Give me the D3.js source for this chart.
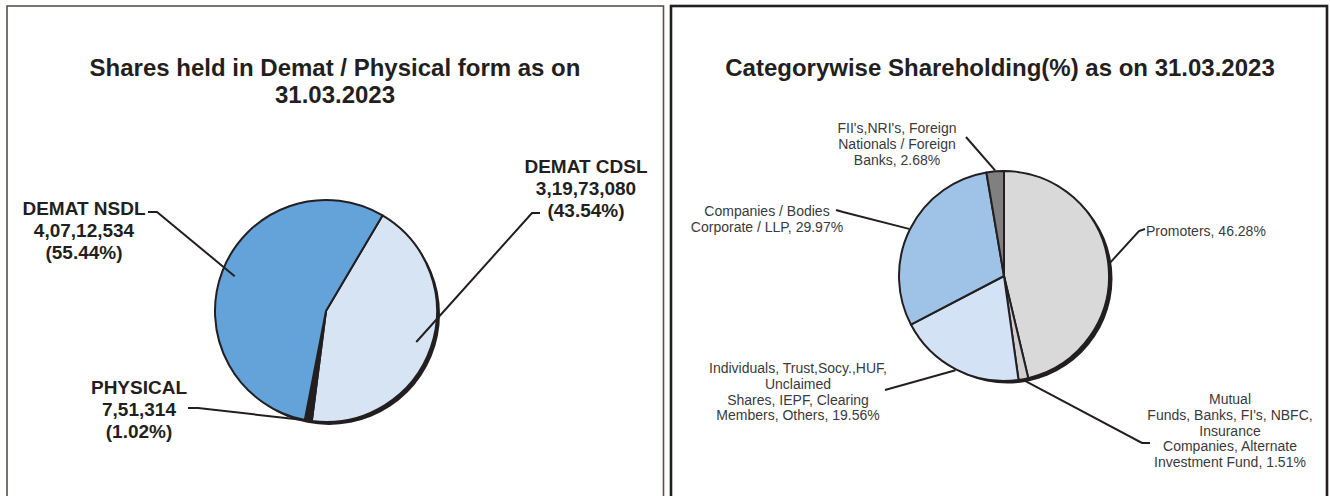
<!DOCTYPE html>
<meta charset="utf-8">
<title>Shareholding pies</title>
<style>
body { margin: 0; background: #fff; }
svg { display: block; font-family: "Liberation Sans", Arial, sans-serif; }
.title { font-size: 24px; font-weight: bold; fill: #231f20; text-anchor: middle; }
.lbl-bold { font-size: 19px; font-weight: bold; fill: #231f20; text-anchor: middle; }
.lbl { font-size: 14px; fill: #3a3a3a; text-anchor: middle; }
.leader { fill: none; stroke: #231f20; stroke-width: 2; }
.slice { stroke: #231f20; stroke-width: 2; stroke-linejoin: round; }
</style>
<script src="https://d3js.org/d3.v7.min.js"></script>
<body>
<script>

// ---- data ----
var formCategories = ["DEMAT CDSL", "PHYSICAL", "DEMAT NSDL"];
var formShares     = [31973080, 751314, 40712534];
var formShareLabels = ["3,19,73,080", "7,51,314", "4,07,12,534"];
var formPercents   = ["43.54%", "1.02%", "55.44%"];

var holdCategories = [
  ["Promoters, 46.28%"],
  ["Mutual", "Funds, Banks, FI's, NBFC,", "Insurance", "Companies, Alternate", "Investment Fund, 1.51%"],
  ["Individuals, Trust,Socy.,HUF,", "Unclaimed", "Shares, IEPF, Clearing", "Members, Others, 19.56%"],
  ["Companies / Bodies", "Corporate / LLP, 29.97%"],
  ["FII's,NRI's, Foreign", "Nationals / Foreign", "Banks, 2.68%"]
];
var holdPercents = [46.28, 1.51, 19.56, 29.97, 2.68];

var width = 1330, height = 496;

var svg = d3.select("body").append("svg")
    .attr("width", width)
    .attr("height", height);

// panel frames
svg.append("rect").attr("x", 7).attr("y", 6).attr("width", 656.5).attr("height", 600)
    .attr("fill", "none").attr("stroke", "#57524e").attr("stroke-width", 1.6);
svg.append("rect").attr("x", 671).attr("y", 6).attr("width", 656).attr("height", 600)
    .attr("fill", "none").attr("stroke", "#231f20").attr("stroke-width", 2.6);

// titles
svg.append("text").attr("class", "title").attr("x", 335).attr("y", 76)
    .text("Shares held in Demat / Physical form as on");
svg.append("text").attr("class", "title").attr("x", 335).attr("y", 103)
    .text("31.03.2023");
svg.append("text").attr("class", "title").attr("x", 1000).attr("y", 76)
    .text("Categorywise Shareholding(%) as on 31.03.2023");

// draws a pie with a dark "3D" rim on the lower right
function drawPie(g, values, colors, r, startDeg, shadow) {
  var pie = d3.pie().sort(null)
      .startAngle(startDeg * Math.PI / 180)
      .endAngle(startDeg * Math.PI / 180 + 2 * Math.PI);
  var arcs = pie(values);
  var arc = d3.arc().innerRadius(0).outerRadius(r);

  g.append("circle")
      .attr("cx", shadow[0]).attr("cy", shadow[1]).attr("r", r)
      .attr("fill", "#231f20");

  g.selectAll("path.slice")
      .data(arcs)
    .enter().append("path")
      .attr("class", "slice")
      .attr("fill", function(d, i) { return colors[i]; })
      .attr("d", arc);
  return arcs;
}

// point on a slice's mid angle at radius k
function midPoint(d, k) {
  var a = (d.startAngle + d.endAngle) / 2;
  return [k * Math.sin(a), -k * Math.cos(a)];
}

// ---- left pie ----
var leftC = [326, 311], leftR = 111;
var gL = svg.append("g").attr("transform", "translate(" + leftC + ")");
var leftArcs = drawPie(gL, formShares, ["#d6e4f4", "#231f20", "#64a2da"], leftR, 30.6, [3, 3]);

// label anchors (layout) and where the leader meets the slice
var leftLabels = [
  { x: 586, y: 173, line: [[540, 213], [532, 213]], k: 0.86 },
  { x: 139, y: 394, line: [[188, 408], [198, 408]], k: 1.0 },
  { x: 84,  y: 215, line: [[148, 212], [157, 212]], k: 0.88 }
];

leftArcs.forEach(function(d, i) {
  var L = leftLabels[i];
  var p = midPoint(d, leftR * L.k);
  var pts = L.line.concat([[p[0] + leftC[0], p[1] + leftC[1]]]);
  svg.append("path").attr("class", "leader").attr("d", d3.line()(pts));
  var t = svg.append("text").attr("class", "lbl-bold").attr("x", L.x).attr("y", L.y);
  [formCategories[i], formShareLabels[i], "(" + formPercents[i] + ")"].forEach(function(s, j) {
    t.append("tspan").attr("x", L.x).attr("dy", j ? 22 : 0).text(s);
  });
});

// ---- right pie ----
var rightC = [1004, 276], rightR = 105;
var gR = svg.append("g").attr("transform", "translate(" + rightC + ")");
var rightArcs = drawPie(gR, holdPercents, ["#d9d9d9", "#d0d0d0", "#d3e2f4", "#9fc3e7", "#808080"], rightR, 0, [3.5, 2.5]);

var rightLabels = [
  { x: 1146, y: 236, anchor: "start", line: [[1145, 229], [1139, 231]] },
  { x: 1230, y: 404, anchor: "middle", line: [[1150, 443], [1142, 443]] },
  { x: 798,  y: 373, anchor: "middle", line: [[885, 390]] },
  { x: 767,  y: 216, anchor: "middle", line: [[836, 210], [843, 212]] },
  { x: 897,  y: 133, anchor: "middle", line: [[966, 137]] }
];

rightArcs.forEach(function(d, i) {
  var L = rightLabels[i];
  var p = midPoint(d, rightR + 1);
  var pts = L.line.concat([[p[0] + rightC[0], p[1] + rightC[1]]]);
  svg.append("path").attr("class", "leader").attr("d", d3.line()(pts));
  var t = svg.append("text").attr("class", "lbl").attr("x", L.x).attr("y", L.y)
      .style("text-anchor", L.anchor);
  holdCategories[i].forEach(function(s, j) {
    t.append("tspan").attr("x", L.x).attr("dy", j ? 15.8 : 0).text(s);
  });
});

</script>
